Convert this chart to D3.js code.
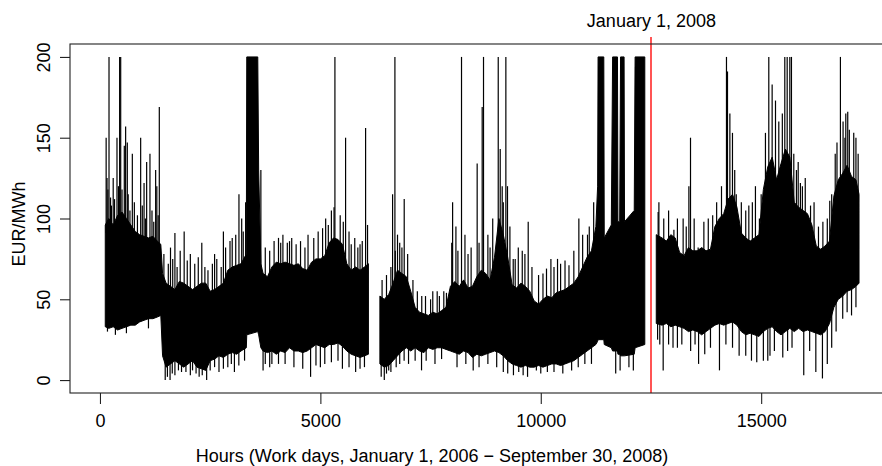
<!DOCTYPE html>
<html><head><meta charset="utf-8">
<script src="https://cdn.jsdelivr.net/npm/d3@7"></script>
<style>body{margin:0;background:#fff}svg{display:block}</style></head>
<body>
<svg id="c" width="882" height="466"></svg>
<script>
// ---- data ----
const xTicks = [0, 5000, 10000, 15000];
const yTicks = [0, 50, 100, 150, 200];
const markerHour = 12510;
const markerLabel = "January 1, 2008";
const xTitle = "Hours (Work days, January 1, 2006 \u2212 September 30, 2008)";
const yTitle = "EUR/MWh";

// dense band (lower / upper envelope) of the hourly price line
const bandHours = [120,200,300,400,500,600,700,800,900,1000,1100,1200,1300,1380,1420,1500,1600,1700,1800,1900,2000,2100,2200,2300,2400,2500,2600,2700,2800,2900,3000,3100,3200,3320,3330,3580,3600,3650,3700,3800,3900,4000,4100,4200,4300,4400,4500,4600,4700,4800,4900,5000,5100,5200,5300,5400,5500,5600,5700,5800,5900,6000,6090,6200,6350,6450,6550,6650,6750,6850,6950,7050,7150,7250,7350,7450,7550,7650,7750,7850,7950,8050,8150,8250,8350,8450,8550,8650,8750,8850,8950,9050,9150,9250,9350,9450,9550,9650,9750,9850,9950,10050,10150,10250,10350,10450,10550,10650,10750,10850,10950,11050,11150,11250,11290,11300,11430,11440,11600,11630,11740,11750,11790,11810,11890,11900,12120,12140,12360,12480,12620,12750,12850,12950,13050,13150,13250,13350,13450,13550,13650,13750,13850,13950,14050,14150,14250,14350,14450,14550,14650,14750,14850,14950,15050,15150,15250,15350,15450,15550,15650,15750,15850,15950,16050,16150,16250,16350,16450,16550,16650,16750,16850,16950,17050,17150,17220];
const bandLow  = [33,32,33,31,32,33,34,34,36,37,38,38,39,40,15,8,10,12,10,8,10,12,8,7,6,12,13,15,14,16,17,16,18,20,28,30,28,20,18,17,18,16,18,17,20,18,18,17,18,20,22,21,20,22,22,23,21,18,16,15,14,15,16,null,10,8,9,12,15,18,20,18,20,18,17,20,19,20,20,19,18,17,16,18,17,14,16,15,16,17,18,17,15,12,10,9,8,9,8,8,9,8,9,10,10,9,10,11,12,14,16,18,20,22,24,25,25,22,20,18,18,16,16,15,15,15,16,20,22,null,35,34,35,33,34,33,32,30,31,30,28,30,32,34,35,34,35,36,34,30,28,29,28,27,30,32,33,30,28,30,32,30,32,30,31,30,29,28,30,35,45,50,52,55,56,58,60];
const bandHigh = [96,100,96,102,104,100,96,92,90,89,88,89,86,84,66,60,58,56,61,60,58,56,58,60,60,55,56,58,60,68,70,71,72,78,200,200,130,72,66,64,70,73,72,73,72,71,72,69,68,73,75,75,77,85,88,87,84,72,68,70,68,70,72,null,52,50,53,60,68,66,64,55,45,42,41,40,42,41,43,45,58,61,58,62,57,58,64,68,66,62,76,100,90,76,59,57,60,58,55,49,47,50,52,51,54,55,56,58,60,64,70,76,80,95,120,200,200,88,96,200,200,98,98,200,200,98,105,200,200,null,90,88,86,90,88,79,77,82,80,80,82,80,81,95,100,103,112,115,107,91,88,86,88,90,118,132,138,124,134,143,138,110,107,105,103,96,83,81,83,86,114,124,128,133,126,124,115];

// isolated excursions above the band
const spikeHours  = [140,160,205,240,300,386,446,470,552,582,620,734,923,1000,1059,1134,1263,1290,1346,1600,1700,1910,2050,2310,2600,2800,3000,3153,3215,3304,3650,4100,4300,4650,4950,5180,5310,5330,5572,5650,5900,6026,6070,6638,6691,6750,6902,7385,7650,7860,8000,8075,8202,8280,8557,8671,8701,8910,9035,9080,9125,9208,9245,9375,9490,9640,9715,10130,10230,10380,10640,10864,11060,11318,12150,12663,12790,13020,13230,13360,13397,13570,13990,14213,14236,14290,14349,14435,14550,14870,14960,15097,15173,15249,15325,15536,15590,15650,15687,15740,15840,15890,15935,16120,16300,16556,16720,16798,16858,16920,16964,17100,17200,
  180,260,330,420,500,640,680,780,850,960,1030,1180,1220,1320,
  1450,1550,1650,1750,1820,1980,2150,2230,2380,2450,2550,2650,2750,2850,2950,3080,3250,
  3750,3850,3950,4050,4150,4250,4350,4450,4550,4720,4850,5050,5120,5250,5450,5520,5700,5780,5850,5950,
  6400,6500,6600,6700,6800,6850,6980,7100,7200,7300,7500,7550,7700,7800,
  7980,8120,8350,8420,8600,8800,8850,9150,9300,9420,9580,9800,9950,10050,10300,10450,10550,10750,10950,11100,11200,
  12680,12900,13100,13300,13480,13700,13800,13900,14100,14400,14650,14720,14800,15000,15400,15480,15800,16000,16200,16400,16500,16600,16680,16900,17000,17150];
const spikeValues = [150,125,200,113,125,150,200,200,145,157,147,140,150,122,135,140,130,120,169,82,91,92,78,85,78,92,88,115,100,110,130,85,86,82,92,96,107,200,150,92,84,156,96,115,200,90,112,52,55,54,110,95,200,90,134,169,200,100,200,143,120,200,120,75,82,78,98,69,75,75,71,100,90,154,136,104,100,93,100,120,150,82,110,200,191,165,153,115,110,120,100,153,200,183,173,200,200,200,200,140,135,122,120,108,95,111,147,200,160,165,166,153,140,
  118,108,112,120,118,115,105,110,102,108,100,105,98,102,
  78,72,75,70,80,74,72,76,70,68,72,75,70,82,86,90,92,
  82,80,86,88,90,85,88,84,86,90,88,94,100,105,102,98,84,88,82,86,
  62,65,70,80,85,82,78,62,55,52,50,55,52,55,
  85,80,78,82,85,90,82,110,95,75,80,70,65,66,70,72,74,80,90,95,110,
  110,105,100,95,100,98,100,102,120,130,105,108,110,115,160,165,130,125,110,98,100,115,140,150,155,150];

// isolated excursions below the band
const dipHours  = [1480,1590,1700,1850,2100,2250,2420,2700,2900,3050,3700,3900,4200,4778,5000,5500,5800,6000,6380,6450,6600,6720,7295,7600,8467,8800,9380,9500,9700,9900,10300,10700,11000,11700,11800,12000,12100,12700,12777,13000,13200,13580,13720,14054,14500,14780,14900,15050,15150,15300,15490,15966,16240,16390,16500,16600,17050,
  170,350,600,1100,
  1530,1640,1780,1950,2050,2180,2320,2500,2600,2800,2980,3150,3280,
  3750,3850,4050,4400,4600,4900,5100,5250,5400,5650,5900,
  6500,6550,6800,6900,7000,7150,7400,7750,
  8100,8300,8600,9000,9150,9250,9600,10000,10150,10500,10850,11150,
  12650,12900,13100,13400,13500,13850,14200,14350,14650,15200,15600,15700,16100,16700,16850,16950,17150];
const dipValues = [0,0,3,5,6,2,0,5,8,5,6,10,10,2,8,7,5,8,2,0,5,8,6,10,6,10,3,5,2,6,5,6,10,4,6,8,6,22,6,20,22,10,16,6,15,12,11,12,12,18,14,3,5,1,10,20,40,
  30,28,29,32,
  2,4,6,5,3,4,3,6,8,7,10,9,12,
  10,8,10,8,7,9,10,11,12,8,7,
  4,6,10,12,10,12,12,13,
  8,10,8,8,5,4,3,4,5,4,8,10,
  25,22,20,18,22,20,22,20,15,15,18,20,18,30,38,42,45];

// ---- drawing ----
const svg = d3.select('#c');
const font = "'Liberation Sans', Arial, Helvetica, sans-serif";
const L = 70, R = 889, T = 44, B = 393;
const x = d3.scaleLinear().domain([-680, 17900]).range([L, R]);
const y = d3.scaleLinear().domain([-8, 208]).range([B, T]);

svg.append('rect').attr('width', 882).attr('height', 466).attr('fill', '#fff');
svg.append('defs').append('clipPath').attr('id', 'clip')
  .append('rect').attr('x', L).attr('y', T).attr('width', R - L).attr('height', B - T);

const band = bandHours.map((h, i) => ({h, lo: bandLow[i], hi: bandHigh[i]}));
const g = svg.append('g').attr('clip-path', 'url(#clip)');

const area = d3.area().defined(d => d.lo != null)
  .x(d => x(d.h)).y0(d => y(d.lo)).y1(d => y(d.hi));
g.append('path').attr('d', area(band)).attr('fill', '#000')
  .attr('stroke', '#000').attr('stroke-width', 1).attr('stroke-linejoin', 'miter');

function bandAt(h, key) {
  for (let i = 0; i < band.length - 1; i++) {
    const a = band[i], b = band[i + 1];
    if (h >= a.h && h <= b.h) {
      if (a[key] == null) return b[key];
      if (b[key] == null) return a[key];
      return a[key] + (b[key] - a[key]) * (h - a.h) / (b.h - a.h);
    }
  }
  return band[band.length - 1][key];
}

g.selectAll('line.spike').data(spikeHours.map((h, i) => ({h, v: spikeValues[i]})))
  .join('line').attr('class', 'spike')
  .attr('x1', d => x(d.h)).attr('x2', d => x(d.h))
  .attr('y1', d => y(bandAt(d.h, 'hi') - 6)).attr('y2', d => y(d.v))
  .attr('stroke', '#000').attr('stroke-width', 1.2);

g.selectAll('line.dip').data(dipHours.map((h, i) => ({h, v: dipValues[i]})))
  .join('line').attr('class', 'dip')
  .attr('x1', d => x(d.h)).attr('x2', d => x(d.h))
  .attr('y1', d => y(bandAt(d.h, 'lo') + 6)).attr('y2', d => y(d.v))
  .attr('stroke', '#000').attr('stroke-width', 1.2);

// marker line
const mx = Math.round(x(markerHour));
svg.append('line').attr('x1', mx).attr('x2', mx)
  .attr('y1', 37).attr('y2', B).attr('stroke', '#ff2a2a').attr('stroke-width', 1.6);
svg.append('text').attr('x', x(markerHour)).attr('y', 27).attr('text-anchor', 'middle')
  .attr('font-family', font).attr('font-size', 18).attr('fill', '#000').text(markerLabel);

// box
svg.append('rect').attr('x', L).attr('y', T).attr('width', R - L).attr('height', B - T)
  .attr('fill', 'none').attr('stroke', '#222').attr('stroke-width', 1.1);

// axes
const xa = svg.append('g').attr('transform', `translate(0,${B})`)
  .call(d3.axisBottom(x).tickValues(xTicks).tickFormat(d3.format('d')).tickSize(11).tickPadding(10));
xa.select('.domain').remove();
xa.selectAll('line').attr('stroke', '#222').attr('stroke-width', 1.1);
xa.selectAll('text').attr('font-family', font).attr('font-size', 18).attr('fill', '#000');

const ya = svg.append('g').attr('transform', `translate(${L},0)`)
  .call(d3.axisLeft(y).tickValues(yTicks).tickSize(10));
ya.select('.domain').remove();
ya.selectAll('line').attr('stroke', '#222').attr('stroke-width', 1.1);
ya.selectAll('text').attr('x', null).attr('dy', null).attr('text-anchor', 'middle')
  .attr('transform', 'translate(-20,0) rotate(-90)')
  .attr('font-family', font).attr('font-size', 18).attr('fill', '#000');

svg.append('text').attr('x', 432).attr('y', 462).attr('text-anchor', 'middle')
  .attr('font-family', font).attr('font-size', 18).attr('fill', '#000').text(xTitle);
svg.append('text').attr('transform', 'translate(25,224) rotate(-90)').attr('text-anchor', 'middle')
  .attr('font-family', font).attr('font-size', 18).attr('fill', '#000').text(yTitle);
</script>
</body></html>
